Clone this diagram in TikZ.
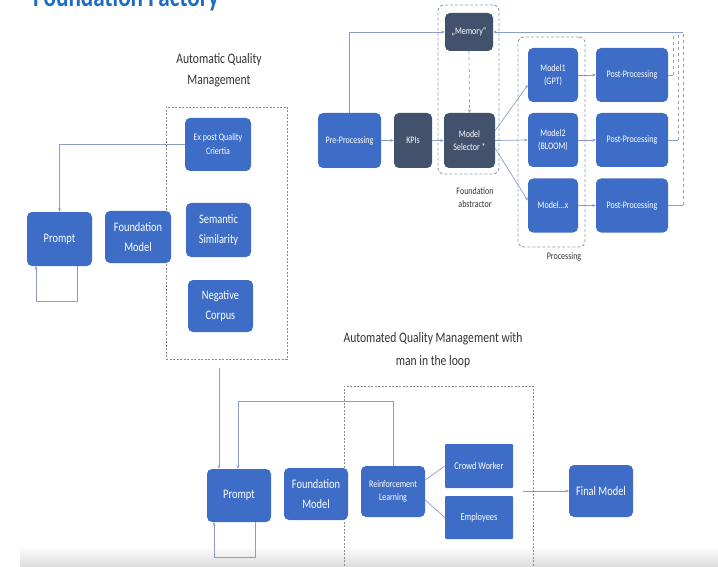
\documentclass[tikz,border=0pt]{standalone}
\usepackage{fontspec}
\setmainfont{Carlito}[FakeStretch=0.8]
\usetikzlibrary{arrows.meta,fit}
\definecolor{boxblue}{HTML}{3D6DC6}
\definecolor{boxdark}{HTML}{42526C}
\definecolor{linec}{HTML}{8A9DC8}
\definecolor{dashc}{HTML}{8C8C8C}
\definecolor{dashb}{HTML}{8FA0BC}
\definecolor{titleblue}{HTML}{1F6BC2}
\tikzset{
  bx/.style={fill=boxblue, rounded corners=5pt, text=white, align=center, inner sep=1pt},
  dk/.style={bx, fill=boxdark},
  sq/.style={bx, rounded corners=1pt},
  fbig/.style={font={\fontsize{13}{20}\selectfont}},
  fmid/.style={font={\fontsize{10.5}{14}\selectfont}},
  fsm/.style={font={\fontsize{10}{13}\selectfont}},
  lbl/.style={align=center, text=black!80},
  conn/.style={draw=linec, line width=0.7pt},
  arr/.style={conn, -{Stealth[length=3.5pt,width=3pt]}},
  dbox/.style={draw=dashc, line width=0.6pt, dash pattern=on 2pt off 1.5pt, inner sep=0pt},
  rbox/.style={draw=dashb, line width=0.9pt, dash pattern=on 3pt off 2pt, rounded corners=6pt, inner sep=0pt},
}
\begin{document}
\begin{tikzpicture}[x=1pt,y=-1pt]
\useasboundingbox (0,0) rectangle (718,567);
\clip (0,0) rectangle (718,567);
% bottom band
\shade[top color=white, bottom color=black!14] (20,546) rectangle (718,567);
% title
\node[anchor=base west, text=titleblue, font={\fontsize{29}{30}\selectfont\bfseries}, inner sep=0] (title) at (33,7) {Foundation Factory};

% ===== top right: foundation abstractor =====
\node[bx, fsm, minimum width=63, minimum height=55] (pre) at (349.5,140.5) {Pre-Processing};
\node[dk, fsm, minimum width=38, minimum height=55] (kpi) at (413,140.5) {KPIs};
\node[dk, fsm, minimum width=51, minimum height=55] (sel) at (469.5,140.5) {Model\\Selector *};
\node[dk, fsm, minimum width=48, minimum height=38] (mem) at (469,32) {„Memory“};
\node[bx, fsm, minimum width=50, minimum height=54] (m1) at (553,75) {Model1\\(GPT)};
\node[bx, fsm, minimum width=50, minimum height=54] (m2) at (553,140) {Model2\\(BLOOM)};
\node[bx, fsm, minimum width=50, minimum height=54] (mx) at (553,205.5) {Model...x};
\node[bx, fsm, minimum width=72, minimum height=54] (pp1) at (632,75) {Post-Processing};
\node[bx, fsm, minimum width=72, minimum height=54] (pp2) at (632,140) {Post-Processing};
\node[bx, fsm, minimum width=72, minimum height=54] (pp3) at (632,205.5) {Post-Processing};
\node[rbox, fit={(438,5) (499,174)}] (abs) {};
\node[rbox, fit={(518,37) (585,247)}] (proc) {};
\node[lbl, fsm] (abslbl) at (475,198) {Foundation\\abstractor};
\node[lbl, fsm] (proclbl) at (564,257) {Processing};

\draw[arr] (pre) -- (kpi);
\draw[arr] (kpi) -- (sel);
\draw[arr, dashed] (mem.south) -- (sel.north);
\draw[arr] (pre.north) |- (mem.west);
\draw[arr] ([yshift=10pt]sel.east) -- ([yshift=-10pt]m1.west);
\draw[arr] (sel.east) -- (m2.west);
\draw[arr] ([yshift=-8pt]sel.east) -- ([yshift=5pt]mx.west);
\draw[arr] (m1) -- (pp1);
\draw[arr] (m2) -- (pp2);
\draw[arr] (mx) -- (pp3);
\coordinate (r1) at (673,32);
\coordinate (r2) at (678,32);
\coordinate (r3) at (683,32);
\draw[conn] (pp1.east) -- (r1 |- pp1.east);
\draw[conn] (pp2.east) -- (r2 |- pp2.east);
\draw[conn] (pp3.east) -- (r3 |- pp3.east);
\draw[conn, dashed] (r1 |- pp1.east) -- (r1);
\draw[conn, dashed] (r2 |- pp2.east) -- (r2);
\draw[conn, dashed] (r3 |- pp3.east) -- (r3);
\draw[arr] (r3) -- (mem.east);

% ===== left: automatic quality management =====
\node[lbl, font={\fontsize{14.5}{21}\selectfont}] (aqm) at (219,70) {Automatic Quality\\Management};
\node[dbox, fit={(166,107) (287,359)}] (aqmbox) {};
\node[bx, font={\fontsize{10}{14}\selectfont}, minimum width=66, minimum height=53] (expost) at (218,144.5) {Ex post Quality\\Criertia};
\node[bx, fbig, minimum width=65, minimum height=54] (sem) at (218.5,230) {Semantic\\Similarity};
\node[bx, fbig, minimum width=65, minimum height=52] (neg) at (220.5,306) {Negative\\Corpus};
\node[bx, fbig, minimum width=65, minimum height=54] (prompt1) at (59.5,239) {Prompt};
\node[bx, fbig, minimum width=66, minimum height=52] (fm1) at (138,237) {Foundation\\Model};
\draw[arr] (expost.west) -| (prompt1.north);
\draw[arr] ([xshift=17.5pt]prompt1.south) -- ++(0,35) -| ([xshift=-23.5pt]prompt1.south);

% ===== bottom: man in the loop =====
\node[lbl, font={\fontsize{14.5}{23}\selectfont}] (amh) at (433,350.5) {Automated Quality Management with\\man in the loop};
\node[dbox, fit={(344,386) (533,590)}] (mbox) {};
\node[bx, fbig, minimum width=64, minimum height=53] (prompt2) at (239,495.5) {Prompt};
\node[bx, fbig, minimum width=64, minimum height=52] (fm2) at (316,494) {Foundation\\Model};
\node[bx, fsm, minimum width=64, minimum height=51] (rl) at (393,491.5) {Reinforcement\\Learning};
\node[sq, fmid, minimum width=68, minimum height=44] (cw) at (479,466) {Crowd Worker};
\node[sq, fmid, minimum width=68, minimum height=43] (emp) at (479,517.5) {Employees};
\node[bx, fbig, minimum width=64, minimum height=52] (fin) at (601,491) {Final Model};

\coordinate (dn) at (219,368);
\draw[arr] (dn) -- (dn |- prompt2.north);
\coordinate (fbk) at (238,401);
\draw[arr] (rl.north) |- (fbk) -- (fbk |- prompt2.north);
\draw[arr] ([xshift=16pt]prompt2.south) -- ++(0,35) -| ([xshift=-25pt]prompt2.south);
\draw[conn] ([yshift=11.5pt]rl.east) -- (cw.west);
\draw[conn] ([yshift=-8.5pt]rl.east) -- (emp.west);
\coordinate (fa) at (523,491);
\draw[arr] (fa) -- (fin.west);
\end{tikzpicture}
\end{document}
